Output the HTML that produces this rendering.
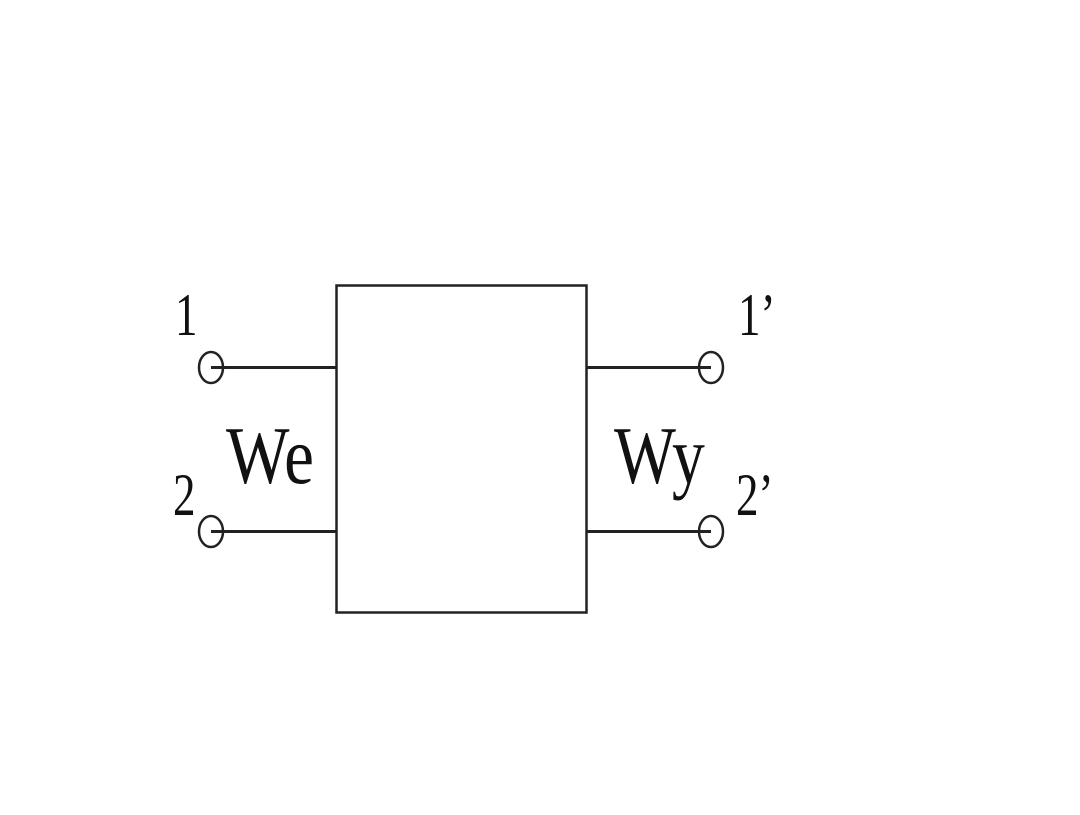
<!DOCTYPE html>
<html><head><style>html,body{margin:0;padding:0;background:#fff;}</style></head>
<body>
<svg width="1080" height="810" xmlns="http://www.w3.org/2000/svg">
<rect x="336.5" y="285.5" width="250" height="327" fill="none" stroke="#222" stroke-width="2.5"/>
<g stroke="#222" stroke-width="3" fill="none">
<line x1="211" y1="367.5" x2="336" y2="367.5"/>
<line x1="211" y1="531.5" x2="336" y2="531.5"/>
<line x1="587" y1="367.5" x2="711" y2="367.5"/>
<line x1="587" y1="531.5" x2="711" y2="531.5"/>
<ellipse cx="211" cy="367.5" rx="12" ry="15.5" stroke-width="2.5"/>
<ellipse cx="211" cy="531.5" rx="12" ry="15.5" stroke-width="2.5"/>
<ellipse cx="711" cy="367.5" rx="12" ry="15.5" stroke-width="2.5"/>
<ellipse cx="711" cy="531.5" rx="12" ry="15.5" stroke-width="2.5"/>
</g>
<g font-family="Liberation Serif, serif" fill="#111">
<text transform="translate(175,335) scale(0.75,1)" font-size="60">1</text>
<text transform="translate(173,515) scale(0.75,1)" font-size="60">2</text>
<text transform="translate(738,335) scale(0.75,1)" font-size="60">1’</text>
<text transform="translate(736,515) scale(0.75,1)" font-size="60">2’</text>
<text transform="translate(226,483) scale(0.82,1)" font-size="82">We</text>
<text transform="translate(614,483) scale(0.8,1)" font-size="82">Wy</text>
</g>
</svg>
</body></html>
